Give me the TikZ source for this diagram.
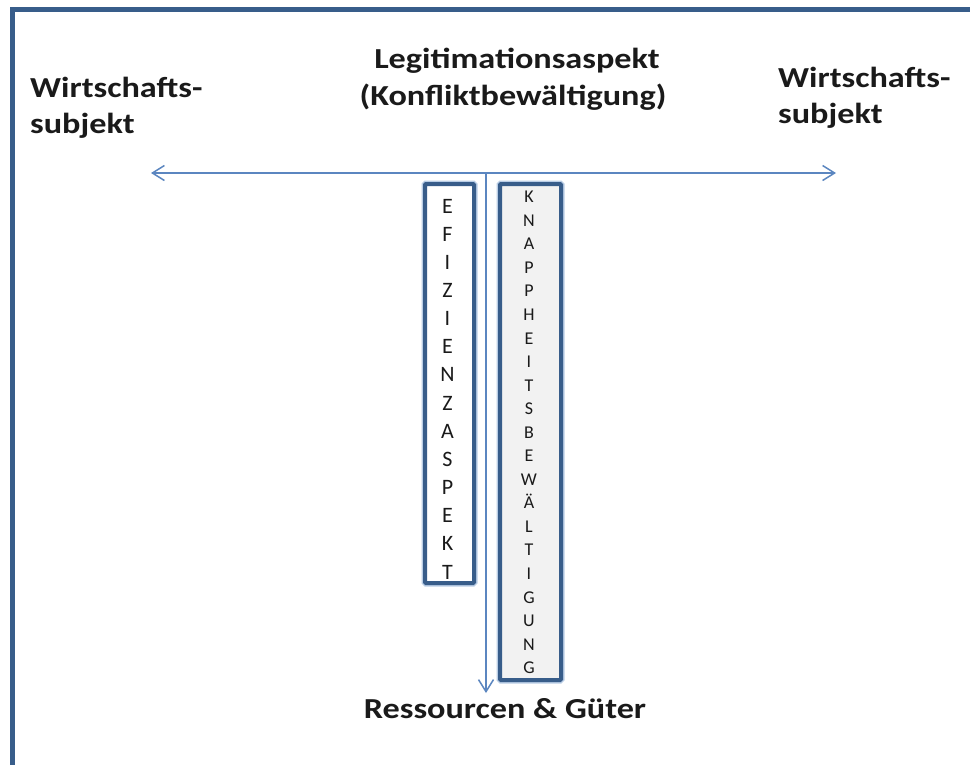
\documentclass[tikz,border=0pt]{standalone}
\usepackage{fontspec}
\usetikzlibrary{arrows.meta}
\newfontfamily\headfont{Carlito}[FakeStretch=1.18]
\newfontfamily\letterfont{Carlito}
\definecolor{frameblue}{HTML}{385D8A}
\definecolor{haloblue}{HTML}{B9CDE5}
\definecolor{lineblue}{HTML}{5B86C0}
\definecolor{boxgray}{HTML}{F2F2F2}
\definecolor{ink}{HTML}{1A1A1A}
\tikzset{
  head/.style={font=\headfont\bfseries\fontsize{29}{37}\selectfont, text=ink, inner sep=0pt},
  letterbox/.style={draw=frameblue, line width=4pt, rounded corners=1pt,
    preaction={draw=haloblue, line width=7pt}},
  stackbig/.style={font=\letterfont\fontsize{22}{28.15}\selectfont, align=center, inner sep=0pt, text=ink},
  stacksmall/.style={font=\letterfont\fontsize{18}{23.55}\selectfont, align=center, inner sep=0pt, text=ink},
  axis/.style={draw=lineblue, line width=1.5pt, {Straight Barb[length=12pt,width=15pt]}-{Straight Barb[length=12pt,width=15pt]}},
  down/.style={draw=lineblue, line width=1.5pt, -{Straight Barb[length=12pt,width=15pt]}}
}
\begin{document}
\begin{tikzpicture}[x=1pt,y=-1pt]
\useasboundingbox (0,0) rectangle (970,764);
\fill[white] (0,0) rectangle (970,764);
% outer frame, open towards right and bottom
\draw[frameblue, line width=4.5pt, line join=miter] (12.5,770) -- (12.5,9.5) -- (975,9.5);

% headings
\node[head, anchor=base] (legit) at (517,68) {Legitimationsaspekt};
\node[head, anchor=base] (konf) at (513,105) {(Konfliktbewältigung)};
\node[head, anchor=base west] (wsl) at (30,97) {Wirtschafts-};
\node[head, anchor=base west] (subl) at (30,133) {subjekt};
\node[head, anchor=base west] (wsr) at (778,87) {Wirtschafts-};
\node[head, anchor=base west] (subr) at (778,123) {subjekt};
\node[head, anchor=base] (res) at (505,718) {Ressourcen \& Güter};

% axes
\coordinate (la) at (151,173);
\coordinate (ra) at (836,173);
\coordinate (jn) at (486,173);
\coordinate (tip) at (486,693);
\draw[axis] (la) -- (ra);
\draw[down] (jn) -- (tip);

% letter columns
\node[letterbox, fill=white, minimum width=49pt, minimum height=399pt, inner sep=0pt] (effbox) at (449.5,383.5) {};
\node[stackbig] (efftext) at (447.5,389) {E\\F\\I\\Z\\I\\E\\N\\Z\\A\\S\\P\\E\\K\\T};
\node[letterbox, fill=boxgray, minimum width=61pt, minimum height=496pt, inner sep=0pt] (knbox) at (530.5,432) {};
\node[stacksmall] (kntext) at (529,432.5) {K\\N\\A\\P\\P\\H\\E\\I\\T\\S\\B\\E\\W\\Ä\\L\\T\\I\\G\\U\\N\\G};
\end{tikzpicture}
\end{document}
